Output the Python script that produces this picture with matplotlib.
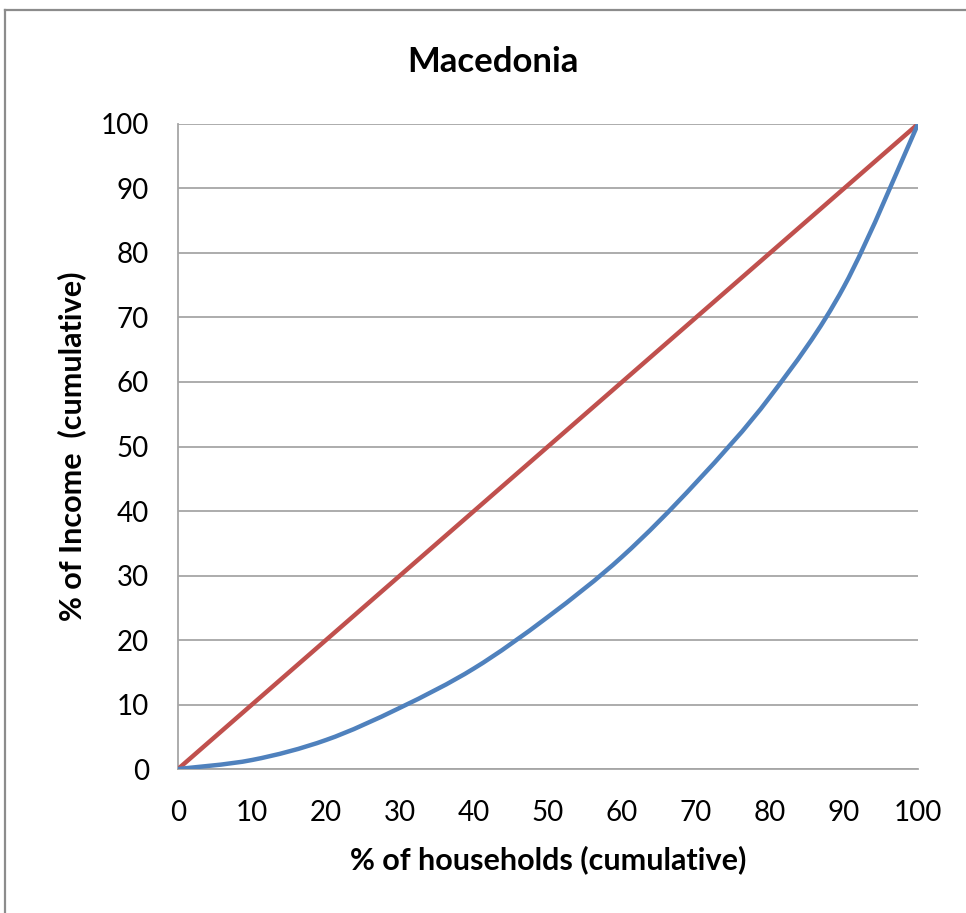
import numpy as np
import matplotlib.pyplot as plt
from matplotlib.path import Path
from matplotlib.patches import PathPatch
from matplotlib.lines import Line2D

plt.rcParams['font.family'] = ['Lato', 'DejaVu Sans']

# cumulative shares by decile
households = [0, 10, 20, 30, 40, 50, 60, 70, 80, 90, 100]
income = [0, 1.4, 4.5, 9.5, 15.6, 23.6, 32.9, 44.4, 57.7, 74.8, 100]
equality = [0, 100]

title = "Macedonia"
xlabel = "% of households (cumulative)"
ylabel = "% of Income  (cumulative)"
ticks = list(range(0, 101, 10))

blue = "#4F81BD"
red = "#C0504D"
grid = "#A6A6A6"


def smooth_path(xs, ys, tension=1/6):
    # cubic bezier through each point, catmull-rom style handles
    pts = np.column_stack([xs, ys]).astype(float)
    n = len(pts)
    verts = [pts[0]]
    codes = [Path.MOVETO]
    for i in range(n - 1):
        p0 = pts[i - 1] if i > 0 else pts[i]
        p1 = pts[i]
        p2 = pts[i + 1]
        p3 = pts[i + 2] if i + 2 < n else pts[i + 1]
        c1 = p1 + (p2 - p0) * tension
        c2 = p2 - (p3 - p1) * tension
        verts += [c1, c2, p2]
        codes += [Path.CURVE4] * 3
    return Path(verts, codes)


fig = plt.figure(figsize=(9.66, 9.13), dpi=100)
ax = fig.add_axes([0.1843, 0.1577, 0.766, 0.7065])

ax.plot(equality, equality, color=red, lw=3.2, solid_capstyle='round', zorder=3)
ax.add_patch(PathPatch(smooth_path(households, income), fill=False,
                       edgecolor=blue, lw=3.2, capstyle='round', zorder=4))

ax.set_xlim(0, 100)
ax.set_ylim(0, 100)
ax.set_xticks(ticks)
ax.set_yticks(ticks)
ax.grid(axis='y', color=grid, lw=1.3)
ax.set_axisbelow(True)
ax.tick_params(length=0, labelsize=20, colors='#000000')
ax.tick_params(axis='y', pad=21)
ax.tick_params(axis='x', pad=22)

for side in ['top', 'right']:
    ax.spines[side].set_visible(False)
for side in ['left', 'bottom']:
    ax.spines[side].set_color(grid)
    ax.spines[side].set_linewidth(1.3)

fig.text(493 / 966, 1 - 62 / 913, title, fontsize=25, fontweight='bold',
         ha='center', va='center')
ax.set_xlabel(xlabel, fontsize=22, fontweight='bold', labelpad=14)
ax.set_ylabel(ylabel, fontsize=22, fontweight='bold', labelpad=10)

# chart frame edges
fig.add_artist(Line2D([0.0052, 0.0052], [0, 0.989], color='#8C8C8C', lw=1.6,
                      transform=fig.transFigure))
fig.add_artist(Line2D([0.0052, 1], [0.989, 0.989], color='#8C8C8C', lw=1.6,
                      transform=fig.transFigure))

fig.savefig("out.png", dpi=100, facecolor='white')
